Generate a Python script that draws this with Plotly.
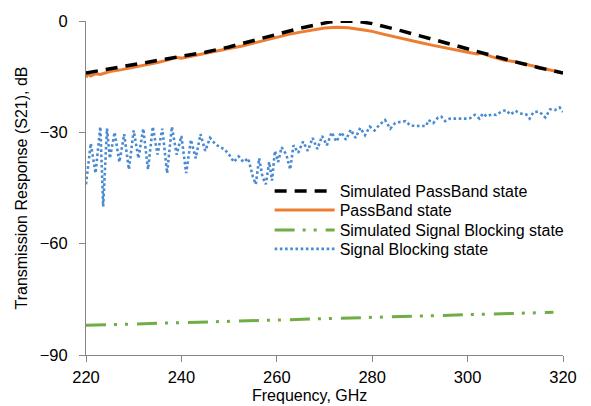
import plotly.graph_objects as go

# ---------------- data ----------------
sim_pass_f = [220, 225, 230, 235, 240, 245, 250, 255, 260, 265, 268, 271, 274, 277,
              280, 283, 286, 290, 295, 300, 305, 310, 315, 320]
sim_pass_db = [-14.0, -12.9, -11.8, -10.7, -9.6, -8.4, -7.0, -5.4, -3.6, -1.9, -1.0, -0.3, 0.0, -0.1,
               -0.7, -1.6, -2.6, -4.0, -5.8, -7.6, -9.3, -11.0, -12.6, -14.0]

pass_f = [220, 220.5, 221, 222, 223, 225, 227.5, 230, 232.5, 235, 237.5, 238.5, 240, 242.5,
          245, 247.5, 250, 252.5, 255, 257.5, 260, 262.5, 265, 267.5, 270, 272.5, 275, 277.5,
          280, 282.5, 285, 287.5, 290, 292.5, 295, 297.5, 300, 302, 303, 305, 307.5,
          310, 312.5, 315, 317.5, 320]
pass_db = [-15.2, -14.3, -14.8, -14.2, -14.4, -13.6, -13.1, -12.5, -11.9, -11.2, -10.4, -9.8, -10.0, -9.3,
           -8.8, -8.1, -7.4, -6.8, -6.0, -5.2, -4.3, -3.6, -3.0, -2.4, -1.9, -1.7, -1.8, -2.3,
           -2.8, -3.6, -4.4, -5.0, -5.8, -6.5, -7.2, -7.8, -8.4, -8.9, -8.7, -9.6, -10.5,
           -11.0, -11.8, -12.6, -13.4, -14.0]

sim_block_f = [220, 245, 270, 295, 318]
sim_block_db = [-82.0, -81.1, -80.2, -79.3, -78.5]

block_f = [220, 221, 222, 223, 223.6, 224.4, 225, 226, 227, 228, 229, 230, 231, 232, 233,
           234, 235, 236, 237, 238, 239, 240, 241, 242, 243, 244, 245, 246, 247, 248, 249,
           250, 251, 252, 253, 254, 255, 255.6, 256.3, 257, 257.7, 258.4, 259, 259.6, 260.3,
           261, 262, 262.8, 263.5, 264.5, 265.5, 266.5, 267.5, 268.5, 269.5, 270.5, 271.5,
           272.5, 273.5, 274.5, 275.5, 276.5, 277.5, 278.5, 279.5, 280.5, 281.5, 282.7,
           283.8, 284.8, 285.8, 287, 288, 289, 290, 291.3, 291.8, 292.8, 293.8, 294.5,
           295.3, 296.3, 297.5, 298.5, 299.5, 300.5, 301.5, 302.5, 303.2, 304, 305, 306,
           307, 308, 309, 310, 311, 312.3, 313, 313.8, 314.8, 315.5, 316.3, 317.3, 318.3,
           319.3, 320]
block_db = [-44, -33, -41, -28.5, -50, -29, -37, -30, -38, -30.5, -40, -29.5, -37, -29, -40,
            -28.5, -36, -29, -41, -28.5, -36, -31, -41, -32, -37, -30.5, -35, -31.5, -33, -34, -34.5,
            -36, -38, -36.5, -38, -37, -42, -44, -37, -42, -44, -38, -43, -35, -38,
            -34, -36, -40, -33.5, -35.5, -32.5, -35, -31.5, -34.5, -31, -33.5, -30,
            -32.5, -30, -32, -29.3, -31.5, -28.8, -30.8, -28.5, -29.5, -28, -26.7,
            -29, -27.5, -27.2, -27, -28.2, -28.3, -28.3, -28.3, -26.7, -27.5, -26, -25.8,
            -27, -26.3, -26.3, -26.5, -26.3, -26.2, -25.3, -26.3, -24.9, -25.7, -25.2, -25.3,
            -24.5, -24, -25.2, -24.2, -24.9, -25.2, -26.3, -24.6, -24.4, -25, -26, -23.8, -24,
            -23.3, -24.5]

x_ticks = [220, 240, 260, 280, 300, 320]
y_ticks = [0, -30, -60, -90]

# ---------------- figure ----------------
fig = go.Figure()
fig.add_trace(go.Scatter(x=block_f, y=block_db, mode="lines", name="Signal Blocking state",
                         line=dict(color="#4A8AD0", width=2.6, dash="2.6px,2.6px"), legend="legend4"))
fig.add_trace(go.Scatter(x=sim_block_f, y=sim_block_db, mode="lines", name="Simulated Signal Blocking state",
                         line=dict(color="#70AD47", width=3, dash="20px,8px,3px,8px,3px,9px"), legend="legend3"))
fig.add_trace(go.Scatter(x=pass_f, y=pass_db, mode="lines", name="PassBand state",
                         line=dict(color="#ED7D31", width=3), legend="legend2"))
fig.add_trace(go.Scatter(x=sim_pass_f, y=sim_pass_db, mode="lines", name="Simulated PassBand state",
                         line=dict(color="#000000", width=3.5, dash="12px,8px"), legend="legend"))

font = "Liberation Sans, Arial, sans-serif"
leg_common = dict(x=0.385, xanchor="left", yanchor="middle", bgcolor="rgba(0,0,0,0)",
                  font=dict(size=16), itemwidth=60)
fig.update_layout(
    width=591, height=406,
    margin=dict(l=86, r=28, t=18, b=51),
    paper_bgcolor="white", plot_bgcolor="white",
    font=dict(family=font, size=16, color="#000000"),
    showlegend=True,
    legend=dict(y=0.491, **leg_common),
    legend2=dict(y=0.4335, **leg_common),
    legend3=dict(y=0.374, **leg_common),
    legend4=dict(y=0.3175, **leg_common),
    xaxis=dict(range=[220, 320], tickvals=x_ticks, ticks="outside", ticklen=6,
               tickcolor="#868686", showline=True, linecolor="#868686", linewidth=1,
               showgrid=False, zeroline=False, ticklabelstandoff=1,
               tickfont=dict(size=16.5)),
    yaxis=dict(range=[-90, 0], tickvals=y_ticks, ticks="outside", ticklen=6,
               tickcolor="#868686", showline=True, linecolor="#868686", linewidth=1,
               showgrid=False, zeroline=False, ticklabelstandoff=8,
               tickfont=dict(size=16.5),
               title=dict(text="Transmission Response (S21), dB", font=dict(size=16), standoff=8)),
    annotations=[dict(text="Frequency, GHz", xref="paper", yref="paper",
                      x=0.4696, y=-0.1217, xanchor="center", yanchor="middle",
                      showarrow=False, font=dict(size=16))],
)

fig.write_html("out.html")
